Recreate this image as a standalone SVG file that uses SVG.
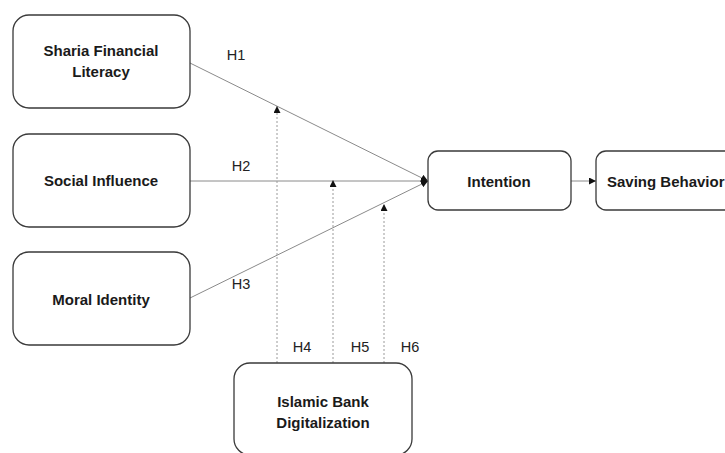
<svg xmlns="http://www.w3.org/2000/svg" width="725" height="453" viewBox="0 0 725 453">
<defs>
<style>
.box{fill:#fff;stroke:#3a3a3a;stroke-width:1.3}
.t{font-family:"Liberation Sans",Arial,sans-serif;font-size:15px;font-weight:bold;fill:#1a1a1a;text-anchor:middle}
.h{font-family:"Liberation Sans",Arial,sans-serif;font-size:14.5px;fill:#222;text-anchor:middle}
.ln{stroke:#8a8a8a;stroke-width:1;fill:none}
.dt{stroke:#9a9a9a;stroke-width:1;fill:none;stroke-dasharray:2,2}
</style>
<marker id="ah" viewBox="0 0 10 10" refX="10" refY="5" markerWidth="7" markerHeight="7" markerUnits="userSpaceOnUse" orient="auto">
<path d="M0,0 L10,5 L0,10 z" fill="#111"/>
</marker>
</defs>
<rect width="725" height="453" fill="#fff"/>
<g id="connectors">
<line class="ln" x1="190" y1="63" x2="428" y2="181" marker-end="url(#ah)"/>
<line class="ln" x1="190" y1="181" x2="428" y2="181" marker-end="url(#ah)"/>
<line class="ln" x1="190" y1="298" x2="428" y2="181" marker-end="url(#ah)"/>
<line class="ln" x1="571" y1="181" x2="596" y2="181" marker-end="url(#ah)"/>
<line class="dt" x1="277" y1="363" x2="277" y2="106" marker-end="url(#ah)"/>
<line class="dt" x1="333" y1="363" x2="333" y2="180" marker-end="url(#ah)"/>
<line class="dt" x1="384" y1="363" x2="384" y2="204" marker-end="url(#ah)"/>
<text class="h" x="236" y="60">H1</text>
<text class="h" x="241" y="171">H2</text>
<text class="h" x="241" y="289">H3</text>
<text class="h" x="302" y="352">H4</text>
<text class="h" x="360" y="352">H5</text>
<text class="h" x="410" y="352">H6</text>
</g>
<g id="sharia">
<rect class="box" x="13" y="15" width="177" height="93" rx="16"/>
<text class="t" x="101" y="56">Sharia Financial</text>
<text class="t" x="101" y="77">Literacy</text>
</g>
<g id="social">
<rect class="box" x="13" y="134" width="177" height="93" rx="16"/>
<text class="t" x="101" y="186">Social Influence</text>
</g>
<g id="moral">
<rect class="box" x="13" y="252" width="177" height="93" rx="16"/>
<text class="t" x="101" y="305">Moral Identity</text>
</g>
<g id="intention">
<rect class="box" x="428" y="151" width="143" height="59" rx="10"/>
<text class="t" x="499" y="187">Intention</text>
</g>
<g id="saving">
<rect class="box" x="596" y="151" width="150" height="59" rx="10"/>
<text class="t" x="607" y="187" style="text-anchor:start">Saving Behavior</text>
</g>
<g id="digital">
<rect class="box" x="234" y="363" width="178" height="92" rx="16"/>
<text class="t" x="323" y="407">Islamic Bank</text>
<text class="t" x="323" y="428">Digitalization</text>
</g>
</svg>
